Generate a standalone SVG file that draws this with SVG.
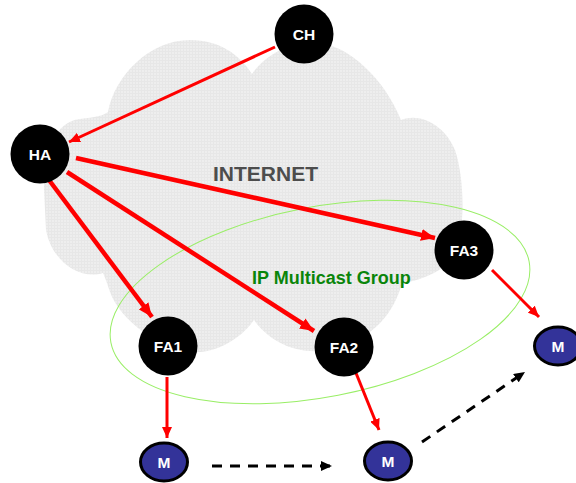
<svg xmlns="http://www.w3.org/2000/svg" width="576" height="483" viewBox="0 0 576 483">
<style>
.lbl{font-family:"Liberation Sans",Arial,sans-serif;font-weight:bold;fill:#ffffff;font-size:15.5px;text-anchor:middle}
.fa{fill:#000000}
.m{fill:#333399;stroke:#000000;stroke-width:3}
.red{stroke:#ff0000;fill:none}
.thick{stroke-width:4.5;marker-end:url(#ahBig)}
.thin{stroke-width:3;marker-end:url(#ahRed)}
.dash{stroke:#000000;stroke-width:3;stroke-dasharray:10 8;fill:none;marker-end:url(#ahBlack)}
</style>
<defs>
<pattern id="grid" width="3" height="3" patternUnits="userSpaceOnUse">
<rect width="3" height="3" fill="#eeeeee"/>
<path d="M0,0.5H3M0.5,0V3" stroke="#e7e7e7" stroke-width="1"/>
</pattern>
<marker id="ahBig" markerUnits="userSpaceOnUse" markerWidth="14" markerHeight="12" refX="14" refY="6" orient="auto">
<path d="M0,0L14,6L0,12Z" fill="#ff0000"/>
</marker>
<marker id="ahRed" markerUnits="userSpaceOnUse" markerWidth="11" markerHeight="10" refX="11" refY="5" orient="auto">
<path d="M0,0L11,5L0,10Z" fill="#ff0000"/>
</marker>
<marker id="ahBlack" markerUnits="userSpaceOnUse" markerWidth="11" markerHeight="10" refX="11" refY="5" orient="auto">
<path d="M0,0L11,5L0,10Z" fill="#000000"/>
</marker>
</defs>
<rect width="576" height="483" fill="#ffffff"/>
<g id="cloud">
<path d="M103,273 C80,280 52,262 46,230 L44,190 C44,150 55,122 80,119 C95,117 103,116 108,112 C115,75 150,40 190,40 C220,40 240,55 252,74 C265,55 290,42 315,42 C350,45 385,80 401,120 C420,112 445,125 455,150 C465,180 465,230 455,255 C448,268 425,280 402,283 C395,310 375,340 330,350 C295,356 268,340 254,320 C240,340 215,353 195,352 C160,350 120,320 110,292 C107,283 105,277 103,273 Z" fill="url(#grid)"/>
<text x="213" y="181" font-family="Liberation Sans, Arial, sans-serif" font-weight="bold" font-size="21" fill="#4d4d4d">INTERNET</text>
</g>
<g id="multicast-group">
<ellipse cx="320" cy="302" rx="213" ry="95" transform="rotate(-11 320 302)" fill="none" stroke="#99ee66" stroke-width="1"/>
<text x="252" y="284" font-family="Liberation Sans, Arial, sans-serif" font-weight="bold" font-size="18" fill="#0a850a">IP Multicast Group</text>
</g>
<g id="connectors">
<line class="red" x1="275" y1="47" x2="69" y2="142" stroke-width="3" marker-end="url(#ahRed)"/>
<line class="red thick" x1="76" y1="158" x2="435" y2="238"/>
<line class="red thick" x1="49" y1="180" x2="152" y2="317"/>
<line class="red thick" x1="67" y1="172" x2="314" y2="331"/>
<line class="red thin" x1="492" y1="270" x2="539" y2="317"/>
<line class="red thin" x1="167" y1="377" x2="167" y2="438"/>
<line class="red thin" x1="356" y1="373" x2="379" y2="430"/>
<line class="dash" x1="212" y1="466" x2="332" y2="466"/>
<line class="dash" x1="422" y1="442" x2="525" y2="372"/>
</g>
<g id="CH"><circle class="fa" cx="304" cy="34" r="29.5"/><text class="lbl" x="304" y="39.5">CH</text></g>
<g id="HA"><circle class="fa" cx="40" cy="154" r="29.5"/><text class="lbl" x="40" y="159.5">HA</text></g>
<g id="FA1"><circle class="fa" cx="168" cy="346" r="29.5"/><text class="lbl" x="168" y="351.5">FA1</text></g>
<g id="FA2"><circle class="fa" cx="344" cy="347" r="29.5"/><text class="lbl" x="344" y="352.5">FA2</text></g>
<g id="FA3"><circle class="fa" cx="464" cy="250" r="29.5"/><text class="lbl" x="464" y="255.5">FA3</text></g>
<g id="M1"><ellipse class="m" cx="164" cy="462" rx="23.5" ry="19"/><text class="lbl" x="164" y="467.5">M</text></g>
<g id="M2"><ellipse class="m" cx="388" cy="461" rx="23.5" ry="19"/><text class="lbl" x="388" y="466.5">M</text></g>
<g id="M3"><ellipse class="m" cx="558" cy="346" rx="23.5" ry="19"/><text class="lbl" x="558" y="351.5">M</text></g>
</svg>
